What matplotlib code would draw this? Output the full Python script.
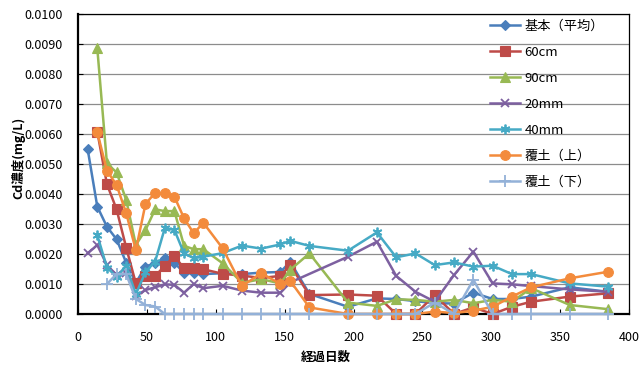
import numpy as np
import matplotlib
matplotlib.use("Agg")
import matplotlib.pyplot as plt
from matplotlib.ticker import FormatStrFormatter, MultipleLocator

plt.rcParams['font.family'] = ['Noto Sans CJK JP', 'DejaVu Sans']

days = [7, 14, 21, 28, 35, 42, 49, 56, 63, 70, 77, 84, 91, 105, 119, 133, 147, 154,
        168, 196, 217, 231, 245, 259, 273, 287, 301, 315, 329, 357, 385]

kihon = [0.0055, 0.00358, 0.00291, 0.00249, 0.00171, 0.00104, 0.00158, 0.0017, 0.00186, 0.0017,
         0.00138, 0.00136, 0.00133, 0.00136, 0.00133, 0.00138, 0.0014, 0.00174, 0.00067, 0.00024,
         0.00052, 0.0005, 0.00043, 0.00036, 0.00035, 0.00071, 0.0005, 0.0005, 0.00058, 0.00089, 0.00074]
cm60 = [None, 0.00608, 0.00433, 0.00349, 0.00221, 0.00102, 0.00127, 0.00127, 0.0016, 0.00193,
        0.00152, 0.00154, 0.00149, 0.00134, 0.00128, 0.0012, 0.00127, 0.00163, 0.00063, 0.00065,
        0.00061, 0.0, 0.0, 0.00063, 0.0, 0.00022, 0.0, 0.00024, 0.00041, 0.00058, 0.00069]
cm90 = [None, 0.00886, 0.00502, 0.00472, 0.0038, 0.0023, 0.0028, 0.00349, 0.00343, 0.00343,
        0.00227, 0.00216, 0.00216, 0.00169, 0.00104, 0.00116, 0.00102, 0.00147, 0.00202, 0.00038,
        0.00027, 0.00049, 0.00047, 0.00041, 0.00047, 0.00036, 0.00047, 0.00041, 0.00086, 0.0003, 0.00016]
mm20 = [0.00202, 0.0023, 0.00163, 0.0013, 0.00136, 0.0006, 0.0008, 0.00089, 0.00099, 0.00097,
        0.00071, 0.001, 0.00086, 0.00094, 0.00078, 0.00071, 0.00071, 0.00105, None, 0.00191,
        0.00241, 0.00127, 0.00074, 0.00041, 0.0013, 0.00208, 0.00102, 0.00099, 0.00093, 0.00082, 0.00074]
mm40 = [None, 0.00263, 0.00155, 0.00124, 0.0016, 0.00066, 0.0014, 0.00175, 0.00286, 0.0028,
        0.00202, 0.00186, 0.00191, 0.00203, 0.00228, 0.00218, 0.00232, 0.00244, 0.00227, 0.00211,
        0.00272, 0.00189, 0.00202, 0.00163, 0.00172, 0.00158, 0.00161, 0.00133, 0.00133, 0.00102, 0.00091]
fudo_up = [None, 0.00606, 0.00478, 0.0043, 0.00336, 0.00213, 0.00367, 0.00404, 0.00402, 0.00391,
           0.00319, 0.00269, 0.00304, 0.00219, 0.00093, 0.00136, 0.001, 0.00111, 0.00022, 0.0,
           0.0, 0.0, 0.0, 0.00008, 0.00003, 0.00011, 0.00024, 0.00058, 0.00089, 0.00119, 0.00141]
fudo_down = [None, None, 0.001, 0.00133, 0.00133, 0.0005, 0.0003, 0.00025, 0.0, 0.0,
             0.0, 0.0, 0.0, 0.0, 0.0, 0.0, 0.0, 0.0, 0.0, 0.0,
             0.0, 0.0, 0.0, 0.00038, 0.0, 0.00114, 0.0, 0.0, 0.0, 0.0, 0.0]

labels = ['基本（平均）', '60cm', '90cm', '20mm', '40mm', '覆土（上）', '覆土（下）']
series = [kihon, cm60, cm90, mm20, mm40, fudo_up, fudo_down]
colors = ['#4A7EBB', '#BE4B48', '#98B954', '#7D60A0', '#46AAC5', '#F38B3C', '#93B1D8']
markers = ['D', 's', '^', 'x', (6, 2, 0), 'o', '+']
msizes = [5, 7, 7, 6, 7, 7, 8]

fig = plt.figure(figsize=(6.41, 3.72), dpi=100)
W, H = 641, 372
ax = fig.add_axes([78 / W, (H - 314) / H, 551 / W, 300 / H])

for vals, lab, c, m, ms in zip(series, labels, colors, markers, msizes):
    xs = [d for d, v in zip(days, vals) if v is not None]
    ys = [v for v in vals if v is not None]
    ax.plot(xs, ys, color=c, marker=m, markersize=ms, lw=1.8, label=lab,
            markeredgewidth=1.3 if m in ('x', '+') or isinstance(m, tuple) else 0.8,
            markeredgecolor=c, markerfacecolor=c, clip_on=False, zorder=3)

ax.set_xlim(0, 400)
ax.set_ylim(0, 0.01)
ax.xaxis.set_major_locator(MultipleLocator(50))
ax.yaxis.set_major_locator(MultipleLocator(0.001))
ax.yaxis.set_major_formatter(FormatStrFormatter('%.4f'))
ax.grid(axis='y', color='#8C8C8C', lw=0.9, zorder=0)
ax.set_axisbelow(True)
ax.tick_params(axis='both', direction='in', length=3.5, width=0.8, labelsize=9, color='black')
ax.tick_params(axis='y', pad=11)
ax.tick_params(axis='x', pad=12)
for s in ['left', 'bottom']:
    ax.spines[s].set_linewidth(1.6)
for s in ['top', 'right']:
    ax.spines[s].set_linewidth(0.9)

leg = ax.legend(loc='upper left', bbox_to_anchor=((490 - 78) / 551, 0.98), frameon=False,
                fontsize=9.5, handlelength=2.3, handletextpad=0.3, labelspacing=0.98,
                borderpad=0, borderaxespad=0)

fig.text(326 / W, 1 - 357 / H, '経過日数', ha='center', va='center', fontsize=9, fontweight='bold')
fig.text(18 / W, 1 - 158 / H, 'Cd濃度(mg/L)', ha='center', va='center', rotation=90,
         fontsize=9, fontweight='bold')

fig.savefig('out.png', dpi=100)
